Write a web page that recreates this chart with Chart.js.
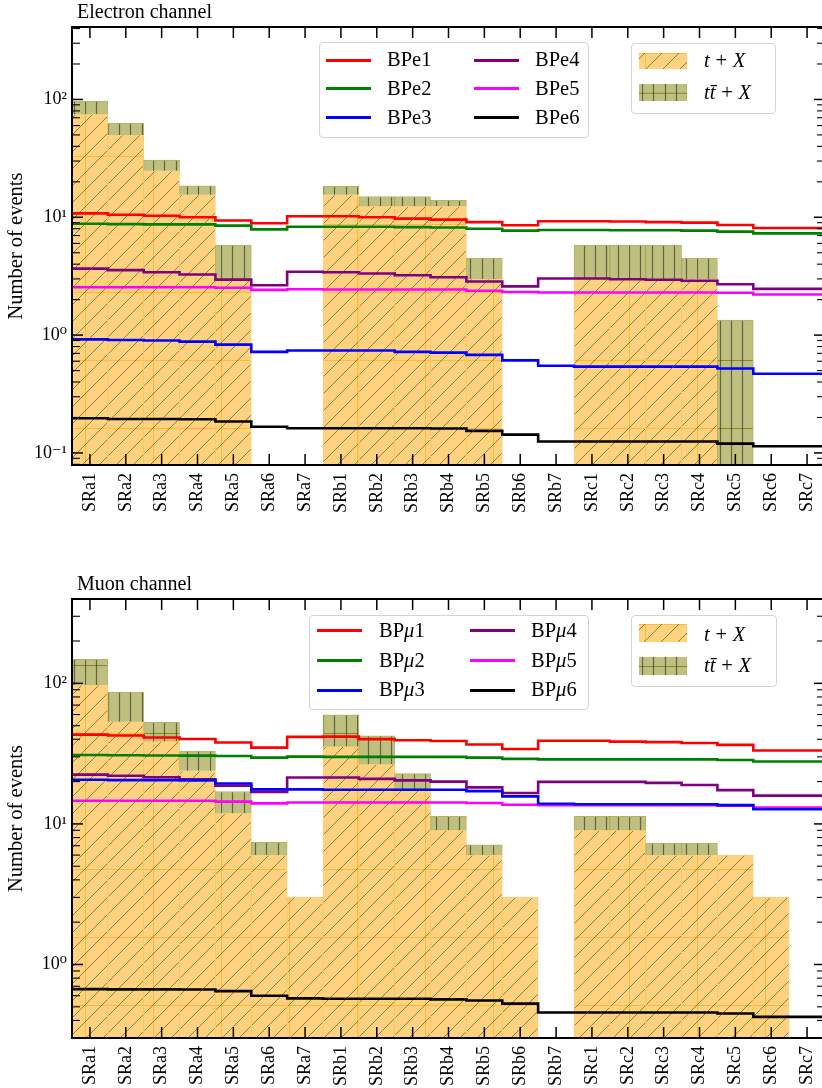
<!DOCTYPE html>
<html><head><meta charset="utf-8">
<script src="https://cdn.jsdelivr.net/npm/chart.js@4.4.0/dist/chart.umd.min.js"></script>
<style>
html,body{margin:0;padding:0;background:#fff;overflow:hidden;}
#wrap{position:relative;width:822px;height:1088px;overflow:hidden;font-family:"Liberation Serif","DejaVu Serif",serif;color:#000;}
canvas.c{position:absolute;left:0;}
.t{position:absolute;white-space:nowrap;line-height:1;}
.box{position:absolute;border:1px solid #d4d4d4;border-radius:4px;background:rgba(255,255,255,0.85);box-sizing:border-box;}
.ln{position:absolute;height:3px;}
.pm{margin:0 0.28em;font-style:normal;}
</style></head>
<body><div id="wrap">
<canvas id="c1" class="c" width="825" height="544" style="top:0"></canvas>
<canvas id="c2" class="c" width="825" height="544" style="top:544px"></canvas>
</div>
<script>
// ---------------- data ----------------
const categories = ['SRa1','SRa2','SRa3','SRa4','SRa5','SRa6','SRa7',
                    'SRb1','SRb2','SRb3','SRb4','SRb5','SRb6','SRb7',
                    'SRc1','SRc2','SRc3','SRc4','SRc5','SRc6','SRc7'];

// Electron channel backgrounds
const eTX  = [75, 50, 24.8, 15.5, 3.0, null, null, 15.5, 12.4, 12.4, 12.4, 3.0, null, null, 3.0, 3.0, 3.0, 3.0, null, null, null];
const eTTX = [22, 13, 5.8, 3.0, 2.8, null, null, 2.8, 2.6, 2.6, 1.5, 1.5, null, null, 2.8, 2.8, 2.8, 1.5, 1.34, null, null];
// Electron channel benchmark points
const BPe1 = [10.8,10.5,10.3,10.0,9.4,8.9,10.2, 10.2,10.0,9.75,9.55,9.1,8.55,9.25, 9.25,9.2,9.1,9.0,8.6,8.1,8.1];
const BPe2 = [8.8,8.75,8.7,8.7,8.5,7.9,8.3, 8.3,8.3,8.25,8.2,8.0,7.7,7.8, 7.8,7.75,7.75,7.7,7.55,7.3,7.3];
const BPe3 = [0.92,0.91,0.90,0.88,0.83,0.72,0.74, 0.74,0.74,0.72,0.71,0.68,0.61,0.55, 0.54,0.54,0.54,0.54,0.52,0.47,0.47];
const BPe4 = [3.67,3.56,3.42,3.27,2.96,2.65,3.45, 3.42,3.33,3.22,3.1,2.85,2.59,3.02, 3.02,2.98,2.95,2.89,2.7,2.47,2.47];
const BPe5 = [2.55,2.55,2.55,2.55,2.52,2.42,2.45, 2.44,2.44,2.44,2.44,2.38,2.32,2.3, 2.3,2.3,2.3,2.3,2.29,2.21,2.21];
const BPe6 = [0.197,0.194,0.194,0.193,0.185,0.167,0.162, 0.162,0.162,0.162,0.161,0.154,0.143,0.125, 0.125,0.125,0.125,0.125,0.12,0.114,0.114];

// Muon channel backgrounds
const mTX  = [97.5, 53.4, 38.6, 23.9, 11.9, 6.0, 3.0, 35.6, 26.6, 17.7, 9.0, 6.0, 3.0, null, 9.0, 9.0, 6.0, 6.0, 6.0, 3.0, null];
const mTTX = [50.5, 33.1, 14.3, 9.1, 5.1, 1.4, null, 24.0, 15.7, 5.1, 2.3, 1.1, null, null, 2.3, 2.3, 1.3, 1.3, null, null, null];
// Muon channel benchmark points
const BPm1 = [43.2,42.5,41.2,40.2,37.9,34.9,41.6, 41.8,40.1,39.4,38.9,36.7,34.1,39.0, 39.0,38.5,38.2,37.6,36.5,33.3,33.3];
const BPm2 = [30.9,30.8,30.7,30.6,30.4,29.6,30.1, 30.0,30.0,30.0,30.0,29.6,29.0,28.8, 28.8,28.8,28.8,28.8,28.5,27.8,27.8];
const BPm3 = [20.6,20.5,20.5,20.4,19.4,17.6,17.6, 17.5,17.5,17.5,17.5,17.1,15.7,13.9, 13.8,13.8,13.8,13.8,13.6,12.7,12.7];
const BPm4 = [22.4,22.0,21.5,20.8,18.7,16.9,21.4, 21.4,20.9,20.4,20.0,18.2,16.6,19.9, 19.9,19.9,19.6,18.9,17.4,15.9,15.9];
const BPm5 = [14.6,14.6,14.6,14.6,14.4,14.0,14.2, 14.2,14.2,14.2,14.2,14.1,13.7,13.6, 13.6,13.6,13.6,13.6,13.5,13.1,13.1];
const BPm6 = [0.668,0.665,0.665,0.664,0.647,0.60,0.574, 0.571,0.571,0.571,0.565,0.555,0.527,0.455, 0.455,0.455,0.455,0.455,0.448,0.424,0.424];

const eNames = ['BPe1','BPe2','BPe3','BPe4','BPe5','BPe6'];
const mNames = ['BPμ1','BPμ2','BPμ3','BPμ4','BPμ5','BPμ6'];
const bgNames = ['t + X', 'tt̄ + X'];
const eYTicks = [0.1, 1, 10, 100];
const eYLabels = ['10⁻¹','10⁰','10¹','10²'];
const mYTicks = [1, 10, 100];
const mYLabels = ['10⁰','10¹','10²'];
const yTitle = 'Number of events';
const titles = ['Electron channel', 'Muon channel'];

// ---------------- styling ----------------
const FONT = '"Liberation Serif","DejaVu Serif",serif';
const lineColors = ['#ff0000','#008000','#0000ff','#800080','#ff00ff','#000000'];

function makeTile(kind) {
  const S = 68, c = document.createElement('canvas');
  c.width = S; c.height = S;
  const g = c.getContext('2d');
  if (kind === 'tx') {
    g.fillStyle = '#FFD280'; g.fillRect(0, 0, S, S);
    g.strokeStyle = 'rgba(255,165,0,0.55)'; g.lineWidth = 1;
    g.beginPath(); g.moveTo(0.5, 0); g.lineTo(0.5, S); g.moveTo(0, 0.5); g.lineTo(S, 0.5); g.stroke();
    g.strokeStyle = 'rgba(40,30,10,0.55)'; g.lineWidth = 0.9;
    g.beginPath();
    for (let k = -5; k <= 5; k++) { g.moveTo(k * 17, S); g.lineTo(k * 17 + S, 0); }
    g.stroke();
  } else {
    g.fillStyle = '#BFBF80'; g.fillRect(0, 0, S, S);
    g.strokeStyle = 'rgba(110,110,0,0.7)'; g.lineWidth = 1;
    g.beginPath(); g.moveTo(0, 0.5); g.lineTo(S, 0.5); g.stroke();
    g.strokeStyle = 'rgba(40,40,20,0.6)'; g.lineWidth = 1.2;
    g.beginPath();
    for (let i = 0; i < 6; i++) { const x = Math.round(i * S / 6) + 0.5; g.moveTo(x, 0); g.lineTo(x, S); }
    g.stroke();
  }
  return c;
}
const tileTX = makeTile('tx'), tileTT = makeTile('tt');
function pattern(ctx, tile, ox, oy) {
  const p = ctx.createPattern(tile, 'repeat');
  p.setTransform(new DOMMatrix([1, 0, 0, 1, ox, oy]));
  return p;
}

const framePlugin = {
  id: 'frame',
  afterDatasetsDraw(chart) {
    const {ctx, chartArea: a, scales} = chart;
    const x = scales.x, y = scales.y;
    ctx.save();
    ctx.strokeStyle = '#000';
    const seg = (x0, y0, x1, y1) => { ctx.beginPath(); ctx.moveTo(x0, y0); ctx.lineTo(x1, y1); ctx.stroke(); };
    ctx.lineWidth = 1.5;
    for (let i = 0; i < chart.data.labels.length; i++) {
      const px = x.getPixelForValue(i);
      seg(px, a.bottom, px, a.bottom - 11);
      seg(px, a.top, px, a.top + 11);
    }
    const e0 = Math.floor(Math.log10(y.min)), e1 = Math.ceil(Math.log10(y.max));
    for (let e = e0; e <= e1; e++) {
      for (let k = 1; k <= 9; k++) {
        const v = k * Math.pow(10, e);
        if (v < y.min || v > y.max) continue;
        const py = y.getPixelForValue(v);
        const len = k === 1 ? 11 : 8;
        ctx.lineWidth = k === 1 ? 1.5 : 1.1;
        seg(a.left, py, a.left + len, py);
        seg(a.right, py, a.right - len, py);
      }
    }
    ctx.lineWidth = 2;
    ctx.strokeRect(a.left, a.top, a.right - a.left, a.bottom - a.top);
    ctx.restore();
  }
};

function stepData(vals) {
  const pts = vals.map((v, i) => ({x: i, y: v}));
  pts.push({x: vals.length, y: vals[vals.length - 1]});
  return pts;
}

function build(id, cfg) {
  const canvas = document.getElementById(id);
  const ctx = canvas.getContext('2d');
  const datasets = [];
  cfg.lines.forEach((vals, i) => {
    datasets.push({
      type: 'line', label: cfg.names[i], data: stepData(vals), xAxisID: 'x2',
      borderColor: lineColors[i], borderWidth: 2.6, pointRadius: 0, stepped: 'before',
      fill: false, order: 1
    });
  });
  datasets.push({
    type: 'bar', label: bgNames[0], data: cfg.tx,
    backgroundColor: pattern(ctx, tileTX, 17, cfg.patOy),
    borderColor: 'rgba(255,165,0,0.55)', borderWidth: 1,
    barPercentage: 1, categoryPercentage: 1, grouped: false, order: 3
  });
  datasets.push({
    type: 'bar', label: bgNames[1],
    data: cfg.ttx.map((v, i) => v == null ? null : [cfg.tx[i] ?? cfg.ymin, (cfg.tx[i] ?? 0) + v]),
    backgroundColor: pattern(ctx, tileTT, 17, cfg.patOy),
    borderColor: 'rgba(128,128,0,0.6)', borderWidth: 1,
    barPercentage: 1, categoryPercentage: 1, grouped: false, order: 2
  });
  return new Chart(ctx, {
    type: 'bar',
    data: {labels: categories, datasets},
    options: {
      responsive: false, animation: false, devicePixelRatio: 1,
      layout: {padding: {top: cfg.padTop, left: 0, right: 0, bottom: 0}},
      plugins: {legend: {display: false}, tooltip: {enabled: false}, title: {display: false}},
      scales: {
        x: {
          type: 'category', offset: true,
          grid: {display: false, drawTicks: false}, border: {display: false},
          ticks: {autoSkip: false, maxRotation: 90, minRotation: 90, padding: 8, color: '#000',
                  font: {family: FONT, size: 18}},
          afterFit: s => { s.height = cfg.xH; s.paddingLeft = 0; s.paddingRight = 0; }
        },
        x2: {type: 'linear', min: 0, max: categories.length, offset: false, display: false,
             grid: {offset: false}},
        y: {
          type: 'logarithmic', min: cfg.ymin, max: cfg.ymax,
          grid: {display: false, drawTicks: false}, border: {display: false},
          afterBuildTicks: s => { s.ticks = cfg.yTicks.map(v => ({value: v, major: true})); },
          ticks: {autoSkip: false, padding: 5, color: '#000', font: {family: FONT, size: 18},
                  callback: (v, i) => cfg.yLabels[i]},
          title: {display: true, text: yTitle, color: '#000', font: {family: FONT, size: 20.5},
                  padding: {top: 4, bottom: 0}},
          afterFit: s => { s.width = 72; s.paddingTop = 0; s.paddingBottom = 0; }
        }
      }
    },
    plugins: [framePlugin]
  });
}

build('c1', {lines: [BPe1, BPe2, BPe3, BPe4, BPe5, BPe6], names: eNames, tx: eTX, ttx: eTTX,
             ymin: 0.079, ymax: 412, yTicks: eYTicks, yLabels: eYLabels, padTop: 27, xH: 79, patOy: 20});
build('c2', {lines: [BPm1, BPm2, BPm3, BPm4, BPm5, BPm6], names: mNames, tx: mTX, ttx: mTTX,
             ymin: 0.32, ymax: 398, yTicks: mYTicks, yLabels: mYLabels, padTop: 55, xH: 50, patOy: 53});

// ---------------- titles & legends (HTML text) ----------------
const wrap = document.getElementById('wrap');
function addText(html, left, baseline, size) {
  const d = document.createElement('div');
  d.className = 't';
  d.style.left = left + 'px';
  d.style.top = (baseline - size * 0.838) + 'px';
  d.style.fontSize = size + 'px';
  d.innerHTML = html;
  wrap.appendChild(d);
  return d;
}
function addBox(l, t, w, h) {
  const d = document.createElement('div');
  d.className = 'box';
  Object.assign(d.style, {left: l + 'px', top: t + 'px', width: w + 'px', height: h + 'px'});
  wrap.appendChild(d);
}
function mathName(s) { return s.replace('μ', '<i>μ</i>'); }
function bgHtml(i) {
  return i === 0 ? '<i>t</i><span class="pm">+</span><i>X</i>'
                 : '<i>tt̄</i><span class="pm">+</span><i>X</i>';
}
function addPatch(tile, l, t, w, h, ox, oy) {
  const c = document.createElement('canvas');
  c.width = w; c.height = h;
  Object.assign(c.style, {position: 'absolute', left: l + 'px', top: t + 'px'});
  const g = c.getContext('2d');
  g.fillStyle = pattern(g, tile, ox, oy);
  g.fillRect(0, 0, w, h);
  wrap.appendChild(c);
}
function legend(L, names) {
  addBox(...L.box);
  names.forEach((n, i) => {
    const col = Math.floor(i / 3), row = i % 3;
    const [lx, tx] = L.col[col];
    const ln = document.createElement('div');
    ln.className = 'ln';
    Object.assign(ln.style, {left: lx + 'px', top: (L.rows[row] - 1.5) + 'px', width: '45px', background: lineColors[i]});
    wrap.appendChild(ln);
    addText(mathName(n), tx, L.rows[row] + 6.6, 20.5);
  });
  addBox(...L.box2);
  addPatch(tileTX, L.patchX, L.prow[0][0], 48, L.prow[0][1], 6, 0);
  addPatch(tileTT, L.patchX, L.prow[1][0], 48, L.prow[1][1], 3, L.prow[1][1] / 2);
  addText(bgHtml(0), L.ptext, L.ptextY[0] + 6.6, 20.5);
  addText(bgHtml(1), L.ptext, L.ptextY[1] + 6.6, 20.5);
}
addText(titles[0], 77, 18, 20);
addText(titles[1], 77, 590, 20);
legend({box: [319, 42, 270, 96], rows: [60, 88.7, 117.3], col: [[326, 387], [474, 535]],
        box2: [631, 43, 145, 71], patchX: 639, prow: [[52.7, 16.5], [84, 17.5]], ptext: 704, ptextY: [60.7, 92.8]}, eNames);
legend({box: [309, 615, 280, 95], rows: [630.5, 660.5, 690], col: [[317, 379], [470, 531]],
        box2: [631, 615, 146, 72], patchX: 639, prow: [[624, 18], [656.5, 18]], ptext: 704, ptextY: [634.3, 665.7]}, mNames);
</script>
</body></html>
